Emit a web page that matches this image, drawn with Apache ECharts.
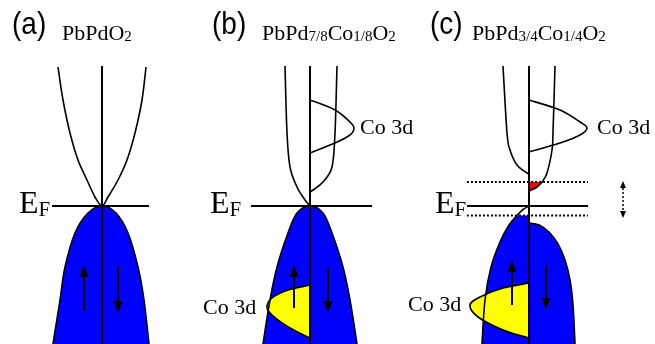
<!DOCTYPE html>
<html>
<head>
<meta charset="utf-8">
<script src="https://cdn.jsdelivr.net/npm/echarts@6/dist/echarts.min.js"></script>
<style>
html,body{margin:0;padding:0;background:#fff;}
#chart{width:655px;height:344px;}
</style>
</head>
<body>
<div id="chart"></div>
<script>
// Schematic band pictures: energy E (Fermi level E_F = 0) against density of
// states D, spin-up states left of the centre line, spin-down states right of it.

// (a) PbPdO2
const aConduction = [[-4.4,13.9],[-3.9,10.6],[-3.2,7.3],[-2.4,4.6],[-1.5,2.6],[-0.7,0.9],[0,0],[0.6,0.9],[1.6,2.6],[2.5,4.6],[3.3,7.3],[4.0,10.6],[4.4,13.9]];
const aValence = [[-4.9,-13.8],[-4.2,-9.4],[-3.7,-6.1],[-2.7,-2.7],[-1.4,-0.7],[0,0],[1.4,-0.7],[2.6,-2.7],[3.6,-6.1],[4.2,-9.4],[4.7,-13.8]];
const aFermi = [[-5.0,0],[4.7,0]];
const aSpinUp = [[-1.8,-10.5],[-1.8,-5.9]];
const aSpinDown = [[1.6,-6.1],[1.6,-10.7]];

// (b) PbPd7/8Co1/8O2
const bConductionUp = [[-2.5,14.0],[-2.3,7.3],[-2.0,3.9],[-1.3,1.9],[-0.5,0.6],[0,0]];
const bConductionDown = [[2.7,14.0],[2.5,7.3],[2.2,3.9],[1.3,2.4],[0.3,1.6],[0,1.4]];
const bCoEmpty = [[0,10.6],[2.5,9.6],[4.0,8.4],[4.4,7.8],[4.0,7.1],[2.5,6.3],[0,5.3]];
const bValence = [[-4.7,-13.8],[-4.0,-9.4],[-3.3,-6.1],[-2.2,-2.7],[-1.3,-0.7],[0,0],[1.3,-0.7],[2.2,-2.7],[3.3,-6.1],[4.0,-9.4],[4.7,-13.8]];
const bCoFilled = [[0,-7.9],[-2.2,-8.4],[-3.8,-9.2],[-4.3,-10.1],[-3.8,-10.9],[-2.0,-12.2],[0,-13.2]];
const bFermi = [[-5.9,0],[6.2,0]];
const bSpinUp = [[-1.6,-10.2],[-1.6,-5.9]];
const bSpinDown = [[1.8,-6.2],[1.8,-10.7]];

// (c) PbPd3/4Co1/4O2
const cConductionUp = [[-2.6,14.0],[-2.2,7.3],[-1.9,5.6],[-1.2,4.1],[-0.2,3.3],[0,3.2]];
const cConductionDown = [[2.6,14.0],[2.4,7.3],[2.3,5.6],[1.8,3.3],[1.3,2.4],[0.8,1.9],[0,1.5]];
const cElectronPocket = [[1.3,2.4],[0.8,1.9],[0,1.5]];
const cCoEmpty = [[0,10.6],[3.1,9.6],[5.1,8.4],[5.8,7.8],[5.1,7.1],[3.1,6.3],[0,5.4]];
const cValenceUp = [[-4.7,-13.8],[-4.4,-9.4],[-3.8,-6.1],[-2.9,-3.6],[-2.0,-1.9],[-1.2,-0.95],[-0.6,-0.35],[0,0]];
const cValenceDown = [[0,-1.7],[1.0,-1.9],[2.0,-2.6],[2.9,-3.8],[3.6,-5.4],[4.1,-7.4],[4.4,-9.9],[4.6,-13.8]];
const cCoFilled = [[0,-7.7],[-2.6,-8.2],[-4.9,-9.1],[-5.9,-9.9],[-5.1,-11.1],[-2.6,-12.4],[0,-13.2]];
const cShiftTop = [[-6.2,2.4],[5.9,2.4]];
const cFermi = [[-6.2,0],[5.9,0]];
const cShiftBottom = [[-6.2,-0.95],[5.9,-0.95]];
const cSpinUp = [[-1.7,-9.9],[-1.7,-5.4]];
const cSpinDown = [[1.7,-5.9],[1.7,-10.4]];
const cShift = [[9.4,2.5],[9.4,-1.2]];

// centre line of each panel and the floor the filled bands run down to
const dosAxis = [[0,14.0],[0,-15.0]];
const bandFloor = -15.0;

// texts
const panelTags = ['(a)', '(b)', '(c)'];
const compounds = [
  '{m|PbPdO}{s|2}',
  '{m|PbPd}{s|7/8}{m|Co}{s|1/8}{m|O}{s|2}',
  '{m|PbPd}{s|3/4}{m|Co}{s|1/4}{m|O}{s|2}'
];
const coLabel = 'Co 3d';

const BLUE = '#0000ff', YELLOW = '#ffff00', RED = '#ff0000', INK = '#000';
const SERIF = '"Liberation Serif", "Times New Roman", serif';
const SANS = '"Liberation Sans", Arial, sans-serif';

// Catmull-Rom spline through pixel points, optionally closed with straight edges
function toPath(px, closePx) {
  let d = 'M' + px[0][0] + ' ' + px[0][1];
  for (let i = 0; i < px.length - 1; i++) {
    const p0 = px[i - 1] || px[i], p1 = px[i], p2 = px[i + 1], p3 = px[i + 2] || px[i + 1];
    d += ' C' + (p1[0] + (p2[0] - p0[0]) / 6) + ' ' + (p1[1] + (p2[1] - p0[1]) / 6) +
         ' ' + (p2[0] - (p3[0] - p1[0]) / 6) + ' ' + (p2[1] - (p3[1] - p1[1]) / 6) +
         ' ' + p2[0] + ' ' + p2[1];
  }
  if (closePx) {
    closePx.forEach(p => { d += ' L' + p[0] + ' ' + p[1]; });
    d += ' Z';
  }
  return d;
}

function curve(grid, pts, stroke, fill) {
  return {
    type: 'custom', coordinateSystem: 'cartesian2d', xAxisIndex: grid, yAxisIndex: grid,
    silent: true, animation: false, data: pts,
    renderItem(params, api) {
      if (params.dataIndex !== 0) return null;
      const px = pts.map(p => api.coord(p));
      const children = [];
      if (fill) {
        const part = px.slice(0, fill.upTo || px.length);
        const closePx = (fill.close || []).map(p => api.coord(p));
        children.push({ type: 'path', shape: { pathData: toPath(part, closePx) },
          style: { fill: fill.color, stroke: null } });
      }
      if (stroke) {
        children.push({ type: 'path', shape: { pathData: toPath(px) },
          style: Object.assign({ fill: null, stroke: INK, lineWidth: 1.6, lineCap: 'butt' }, stroke) });
      }
      return { type: 'group', children };
    }
  };
}

function arrow(grid, seg, opt) {
  opt = Object.assign({ headLen: 12, headWidth: 9, lineWidth: 2, both: false, dash: null }, opt || {});
  return {
    type: 'custom', coordinateSystem: 'cartesian2d', xAxisIndex: grid, yAxisIndex: grid,
    silent: true, animation: false, data: seg,
    renderItem(params, api) {
      if (params.dataIndex !== 0) return null;
      const a = api.coord(seg[0]), b = api.coord(seg[1]);
      const dx = b[0] - a[0], dy = b[1] - a[1], len = Math.hypot(dx, dy);
      const ux = dx / len, uy = dy / len, hl = opt.headLen, hw = opt.headWidth / 2;
      const head = (t, vx, vy) => ({
        type: 'polygon',
        shape: { points: [[t[0], t[1]],
          [t[0] - vx * hl - vy * hw, t[1] - vy * hl + vx * hw],
          [t[0] - vx * hl + vy * hw, t[1] - vy * hl - vx * hw]] },
        style: { fill: INK }
      });
      const start = opt.both ? [a[0] + ux * hl, a[1] + uy * hl] : a;
      const end = [b[0] - ux * hl, b[1] - uy * hl];
      const children = [{
        type: 'line', shape: { x1: start[0], y1: start[1], x2: end[0], y2: end[1] },
        style: { stroke: INK, lineWidth: opt.lineWidth, lineDash: opt.dash }
      }, head(b, ux, uy)];
      if (opt.both) children.push(head(a, -ux, -uy));
      return { type: 'group', children };
    }
  };
}

const floorClose = pts => [[pts[pts.length - 1][0], bandFloor], [pts[0][0], bandFloor]];
const AXIS = { lineWidth: 2 };
const FERMI = { lineWidth: 2 };
const DOTTED = { lineWidth: 2, lineDash: [2, 2] };

const series = [
  // (a)
  curve(0, aValence, null, { color: BLUE, close: floorClose(aValence) }),
  curve(0, aValence, {}),
  curve(0, aConduction, {}),
  curve(0, dosAxis, AXIS),
  curve(0, aFermi, FERMI),
  arrow(0, aSpinUp),
  arrow(0, aSpinDown),
  // (b)
  curve(1, bValence, null, { color: BLUE, close: floorClose(bValence) }),
  curve(1, bCoFilled, {}, { color: YELLOW, close: [] }),
  curve(1, bValence, {}),
  curve(1, bConductionUp, {}),
  curve(1, bConductionDown, {}),
  curve(1, bCoEmpty, {}),
  curve(1, dosAxis, AXIS),
  curve(1, bFermi, FERMI),
  arrow(1, bSpinUp),
  arrow(1, bSpinDown),
  // (c)
  curve(2, cValenceUp, null, { color: BLUE, upTo: 6,
    close: [[0, cValenceUp[5][1]], [0, bandFloor], [cValenceUp[0][0], bandFloor]] }),
  curve(2, cValenceDown, null, { color: BLUE, close: [[cValenceDown[cValenceDown.length - 1][0], bandFloor], [0, bandFloor]] }),
  curve(2, cCoFilled, {}, { color: YELLOW, close: [] }),
  curve(2, cElectronPocket, null, { color: RED, close: [[0, cShiftTop[0][1]]] }),
  curve(2, cValenceUp, {}),
  curve(2, cValenceDown, {}),
  curve(2, cConductionUp, {}),
  curve(2, cConductionDown, {}),
  curve(2, cCoEmpty, {}),
  curve(2, cShiftTop, DOTTED),
  curve(2, cShiftBottom, DOTTED),
  curve(2, dosAxis, AXIS),
  curve(2, cFermi, FERMI),
  arrow(2, cSpinUp),
  arrow(2, cSpinDown),
  arrow(2, cShift, { both: true, headLen: 7, headWidth: 6, lineWidth: 1.5, dash: [2, 2] })
];

const gridLefts = [2, 210, 429];

function tagText(i, x) {
  return { type: 'text', x: x, y: 28, silent: true,
    style: { text: panelTags[i], font: '28px ' + SANS, fill: INK,
      verticalAlign: 'middle', textVerticalAlign: 'middle' }, scaleY: 1.1, originY: 28 };
}
// subscripts: tokens sit on the bottom of the line box, the taller main line box
// lifts the main text above the subscript
function compoundText(i, x) {
  return { type: 'text', x: x, y: 9, silent: true,
    style: { text: compounds[i], fill: INK, verticalAlign: 'top', textVerticalAlign: 'top',
      rich: {
        m: { fontFamily: SERIF, fontSize: 22, lineHeight: 36, verticalAlign: 'bottom', fill: INK },
        s: { fontFamily: SERIF, fontSize: 15, lineHeight: 15, verticalAlign: 'bottom', fill: INK }
      } } };
}
function fermiText(x) {
  return { type: 'text', x: x, y: 171, silent: true,
    style: { text: '{e|E}{f|F}', fill: INK, verticalAlign: 'top', textVerticalAlign: 'top',
      rich: {
        e: { fontFamily: SERIF, fontSize: 32, lineHeight: 50, verticalAlign: 'bottom', fill: INK },
        f: { fontFamily: SERIF, fontSize: 21, lineHeight: 21, verticalAlign: 'bottom', fill: INK }
      } } };
}
function coText(x, y) {
  return { type: 'text', x: x, y: y, silent: true,
    style: { text: coLabel, font: '22px ' + SERIF, fill: INK,
      verticalAlign: 'middle', textVerticalAlign: 'middle' } };
}

const chart = echarts.init(document.getElementById('chart'), null, { renderer: 'canvas' });
chart.setOption({
  animation: false,
  backgroundColor: '#fff',
  grid: gridLefts.map(l => ({ left: l, top: 0, width: 200, height: 344 })),
  xAxis: gridLefts.map((l, i) => ({ gridIndex: i, type: 'value', min: -10, max: 10, show: false })),
  yAxis: gridLefts.map((l, i) => ({ gridIndex: i, type: 'value', min: -13.8, max: 20.6, show: false })),
  series: series,
  graphic: [
    tagText(0, 12), tagText(1, 212), tagText(2, 430),
    compoundText(0, 62), compoundText(1, 262), compoundText(2, 472),
    fermiText(19), fermiText(210), fermiText(435),
    coText(360, 128), coText(597, 128), coText(203, 308), coText(408, 305)
  ]
});
</script>
</body>
</html>
